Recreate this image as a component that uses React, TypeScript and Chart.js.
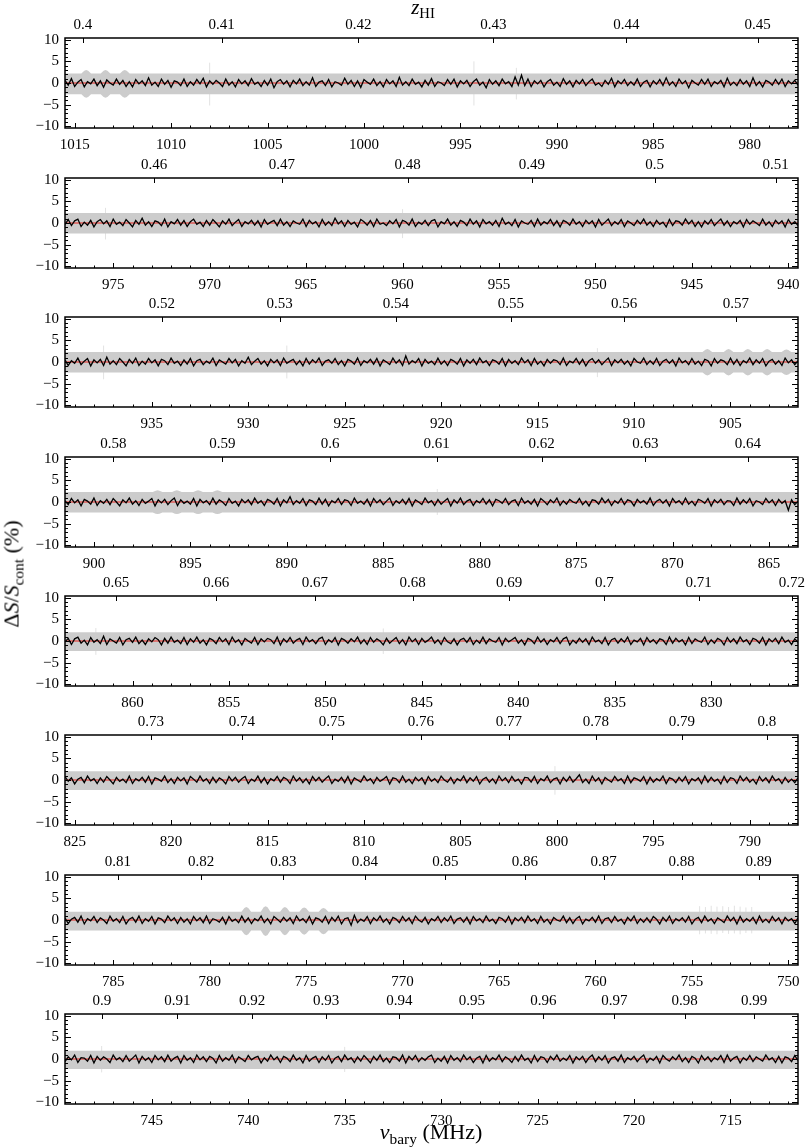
import React, { useEffect, useRef } from "react";
import { Chart, registerables } from "chart.js";
Chart.register(...registerables);

// ---------------- data ----------------
const REST_FREQ_MHZ = 1420.405751;
const panelStartMHz = [1015.5, 977.5, 939.5, 901.5, 863.5, 825.5, 787.5, 749.5];
const panelSpanMHz = 38;

const zTicks1 = ["0.4", "0.41", "0.42", "0.43", "0.44", "0.45"];
const zTicks2 = ["0.46", "0.47", "0.48", "0.49", "0.5", "0.51"];
const zTicks3 = ["0.52", "0.53", "0.54", "0.55", "0.56", "0.57"];
const zTicks4 = ["0.58", "0.59", "0.6", "0.61", "0.62", "0.63", "0.64"];
const zTicks5 = ["0.65", "0.66", "0.67", "0.68", "0.69", "0.7", "0.71", "0.72"];
const zTicks6 = ["0.73", "0.74", "0.75", "0.76", "0.77", "0.78", "0.79", "0.8"];
const zTicks7 = ["0.81", "0.82", "0.83", "0.84", "0.85", "0.86", "0.87", "0.88", "0.89"];
const zTicks8 = ["0.9", "0.91", "0.92", "0.93", "0.94", "0.95", "0.96", "0.97", "0.98", "0.99"];
const zTickLabels = [zTicks1, zTicks2, zTicks3, zTicks4, zTicks5, zTicks6, zTicks7, zTicks8];

// ΔS/S_cont (%) sampled every 1/6 MHz, from the panel's high-frequency edge downwards
const flux1 = [0.6,-0.5,1.0,-0.8,0.2,0.8,-0.9,0.3,-0.2,0.9,-0.6,0.5,-1.0,0.7,0.0,-0.5,0.9,-0.3,0.6,-0.8,
0.3,-0.9,0.8,-0.2,0.5,-0.6,1.2,-0.5,0.2,-0.8,0.9,-0.3,0.6,-1.0,0.5,0.2,-0.6,0.9,-0.8,0.3,
-0.5,0.8,-0.2,1.1,-0.9,0.5,-0.3,0.6,0.0,-0.8,0.9,-0.5,0.3,-0.9,0.8,-0.2,0.5,-0.6,1.0,-0.3,
0.2,-0.8,0.6,-0.5,0.9,-1.1,0.3,0.8,-0.3,0.5,-0.9,0.6,-0.2,0.9,-0.6,0.3,-0.5,1.2,-0.8,0.2,
0.5,-0.6,0.8,-0.9,0.3,0.0,-0.5,1.1,-0.3,0.6,-0.8,0.5,-1.0,0.8,0.2,-0.3,0.9,-0.6,0.3,-0.9,
0.8,-0.2,0.5,-0.8,1.3,-0.5,0.3,-0.6,0.9,-0.3,0.2,-0.9,0.6,-0.5,1.0,-0.8,0.3,0.0,-0.6,0.8,
-0.3,0.9,-0.9,0.5,-0.2,0.6,-0.8,0.3,0.9,-0.5,0.2,-1.1,0.8,-0.3,0.5,-0.6,0.9,-0.2,0.3,-0.8,
1.4,-0.5,1.8,-0.6,0.9,-0.8,0.5,-0.2,0.6,-0.9,0.3,0.8,-0.5,0.2,-0.8,1.0,-0.3,0.5,-0.9,0.6,
-0.2,0.8,-0.6,0.3,0.9,-0.5,0.0,-0.8,0.6,-0.3,1.1,-0.9,0.5,-0.2,0.8,-0.6,0.3,-0.5,0.9,-0.8,
0.2,0.6,-0.9,0.5,-0.3,0.8,-0.6,1.2,-0.5,0.3,-0.8,0.9,-0.2,0.5,-1.1,0.6,0.0,-0.5,0.8,-0.3,
0.9,-0.8,0.3,-0.2,0.6,-0.9,1.1,-0.5,0.2,-0.6,0.8,-0.3,0.5,-0.8,1.2,-0.6,0.3,-0.9,0.6,0.2,
-0.5,0.8,-0.3,0.9,-0.8,0.5,-0.2,0.6,-0.5];
const flux2 = [-0.3,0.8,-0.6,0.5,0.9,-0.8,0.2,-0.5,0.6,-0.9,0.3,0.8,-0.2,0.5,-0.8,0.9,-0.3,0.2,-0.6,0.8,
0.0,-0.9,0.6,-0.3,1.1,-0.5,0.3,-0.8,0.5,0.2,-0.6,0.9,-0.9,0.3,-0.2,0.8,-0.5,0.6,-0.8,0.3,
0.9,-0.3,0.2,-0.8,0.6,-0.5,0.8,0.0,-0.9,0.5,-0.3,0.9,-0.6,0.2,0.8,-0.8,0.3,-0.2,0.6,-0.5,
0.5,-0.9,0.8,-0.3,0.2,0.6,-0.6,0.9,-0.5,0.3,-0.8,0.5,0.0,-0.3,0.9,-0.8,0.6,-0.2,0.3,-0.9,
0.8,-0.5,0.3,-0.6,1.1,-0.2,0.5,-0.8,0.6,-0.3,0.2,-0.9,0.8,0.3,-0.5,0.6,-0.8,0.9,-0.3,0.0,
-0.6,0.5,-0.2,0.8,-0.9,0.6,0.3,-0.5,0.9,-0.8,0.2,-0.3,0.6,-0.6,0.5,0.8,-0.9,0.3,-0.2,0.9,
-0.5,0.3,-0.8,0.6,0.2,-0.6,0.9,-0.3,0.5,-0.9,0.8,-0.2,0.3,-0.5,0.6,-0.8,1.1,-0.3,0.2,-0.6,
0.8,-0.9,0.5,0.0,-0.3,0.6,-0.8,0.9,-0.5,0.3,-0.2,0.8,-0.6,0.5,-0.9,0.6,0.2,-0.5,0.9,-0.3,
0.3,-0.8,0.6,-0.2,0.5,-0.9,0.8,-0.5,0.2,0.9,-0.6,0.3,-0.3,0.8,-0.8,0.5,0.0,-0.6,0.6,-0.2,
0.9,-0.5,0.3,-0.8,0.6,-0.3,0.2,-0.9,0.8,-0.6,0.5,0.3,-0.5,0.9,-0.2,0.6,-0.8,0.3,-0.9,0.5,
-0.3,0.8,-0.6,0.2,0.9,-0.5,0.5,-0.8,0.3,-0.2,0.6,-0.9,0.8,-0.3,0.5,0.0,-0.6,0.9,-0.5,0.3,
-0.8,0.6,-0.2,0.5,-0.9,0.8,-0.3,0.3,-0.6];
const flux3 = [0.5,-0.8,0.3,-0.3,0.9,-0.6,0.2,0.8,-0.9,0.5,-0.2,0.6,-0.8,1.1,-0.5,0.3,-0.6,0.8,0.0,-0.9,
0.6,-0.3,0.9,-0.8,0.2,-0.5,0.8,-0.2,0.5,-0.9,0.6,0.3,-0.6,0.9,-0.3,0.2,-0.8,0.5,-0.5,0.8,
-0.9,0.3,0.6,-0.6,0.2,-0.3,0.9,-0.8,0.5,0.0,-0.5,0.8,-0.2,0.6,-0.9,0.3,-0.3,1.1,-0.6,0.2,
0.8,-0.5,0.3,-0.9,0.6,-0.2,0.5,-0.8,0.9,-0.3,0.2,0.6,-0.6,0.3,-0.9,0.8,-0.5,0.5,-0.2,0.9,
-0.8,0.2,0.5,-0.3,0.8,-0.6,0.3,-0.9,0.6,0.2,-0.5,0.9,-0.8,0.3,-0.2,0.6,-0.5,0.8,-0.9,0.5,
0.0,-0.6,0.9,-0.3,0.5,-0.8,1.4,-0.5,0.3,-0.2,0.8,-0.9,0.6,-0.3,0.2,-0.6,0.9,-0.5,0.3,-0.8,
0.6,0.2,-0.5,0.8,-0.9,0.5,-0.3,0.6,-0.6,0.9,-0.2,0.3,-0.8,0.5,0.2,-0.5,0.8,-0.9,0.6,-0.3,
0.3,-0.6,0.9,-0.2,0.5,-0.8,0.8,-0.5,0.2,-0.9,0.6,-0.3,0.5,0.3,-0.6,0.9,-0.8,0.2,-0.2,0.8,
-0.5,0.6,-0.9,0.3,0.8,-0.3,0.5,-0.6,0.2,0.9,-0.8,0.5,-0.2,0.6,-0.5,0.3,-0.9,0.8,0.0,-0.3,
0.9,-0.6,0.3,-0.5,0.8,-0.8,0.2,0.6,-0.3,0.5,-0.9,0.9,-0.2,0.3,-0.6,0.8,-0.5,0.2,-0.8,0.6,
0.3,-0.9,0.8,-0.3,0.5,0.2,-0.6,0.9,-0.5,0.6,-0.8,0.3,-0.2,0.9,-0.6,0.5,-0.3,0.8,-0.9,0.2,
0.6,-0.5,0.3,-0.8,0.9,-0.2,0.5,-0.6,0.3];
const flux4 = [0.3,-0.6,0.8,-0.2,0.5,-0.9,0.6,0.2,-0.5,0.9,-0.8,0.3,-0.3,0.6,-0.6,0.8,0.0,-0.9,0.5,-0.2,
0.9,-0.5,0.3,-0.8,0.6,-0.3,0.2,0.8,-0.9,0.5,-0.2,0.6,-0.6,0.3,0.9,-0.8,0.5,-0.3,0.2,-0.5,
0.8,-0.9,0.6,-0.2,0.3,-0.6,0.9,-0.5,0.5,0.0,-0.8,0.8,-0.3,0.2,-0.9,0.6,-0.2,0.5,-0.6,0.9,
-0.3,0.3,-0.8,0.6,0.2,-0.5,0.8,-0.9,0.5,-0.2,1.2,-0.6,0.3,-0.3,0.8,-0.8,0.5,0.2,-0.6,0.9,
-0.5,0.6,-0.9,0.3,-0.2,0.8,-0.6,0.5,0.3,-0.8,0.9,-0.3,0.2,-0.5,0.6,-0.9,0.8,-0.2,0.5,-0.6,
0.2,0.9,-0.8,0.3,-0.3,0.6,-0.5,0.8,-0.9,0.5,0.0,-0.6,0.9,-0.2,0.3,-0.8,0.6,-0.5,0.2,0.8,
-0.9,0.5,-0.3,0.9,-0.6,0.2,0.6,-0.8,0.3,-0.2,0.8,-0.5,0.5,-0.9,0.6,0.3,-0.3,0.8,-0.6,0.2,
0.5,-0.8,0.9,-0.3,0.3,-0.5,0.6,-0.9,0.8,0.2,-0.6,0.5,-0.2,0.9,-0.8,0.3,-0.5,0.6,0.0,-0.3,
0.8,-0.6,0.2,-0.9,0.5,0.3,-0.5,0.9,-0.2,0.6,-0.8,0.3,-0.3,0.8,-0.6,0.5,0.2,-0.9,0.6,-0.2,
0.3,-0.5,0.9,-0.8,0.2,0.6,-0.3,0.5,-0.9,0.8,-0.2,0.3,-0.6,0.9,-0.5,0.2,-0.8,0.6,0.3,-0.3,
0.8,-0.9,0.5,-0.2,0.6,-0.6,0.3,0.2,-0.8,0.9,-0.5,0.5,-0.3,0.8,-0.9,0.3,0.0,-0.6,0.8,-0.2,
0.5,-0.8,0.6,-0.3,0.3,-1.9,0.5,-0.6,0.2];
const flux5 = [-0.2,0.6,-0.8,0.5,0.9,-0.5,0.2,-0.9,0.8,-0.3,0.3,-0.6,1.1,-0.8,0.5,0.0,-0.5,0.8,-0.9,0.3,
0.6,-0.3,0.9,-0.6,0.2,-0.8,0.5,-0.2,0.8,0.3,-0.9,0.6,-0.5,0.9,-0.3,0.2,-0.6,0.8,-0.8,0.5,
-0.3,0.9,-0.5,0.3,-0.9,0.6,0.2,-0.6,0.8,-0.2,0.5,-0.8,0.9,-0.3,0.3,-0.9,0.6,0.0,-0.5,0.8,
-0.8,0.5,-0.2,0.6,0.3,-0.6,0.9,-0.9,0.5,-0.3,0.8,-0.5,0.2,0.6,-0.8,0.9,-0.2,0.3,-0.6,0.5,
0.9,-0.8,0.3,-0.3,0.8,-0.9,0.6,0.2,-0.5,0.5,-0.2,0.9,-0.6,0.3,-0.8,0.8,-0.3,0.5,0.0,-0.9,
0.6,-0.5,0.2,0.8,-0.6,0.3,-0.9,0.9,-0.2,0.5,-0.8,0.6,-0.3,0.2,0.9,-0.5,0.3,-0.8,0.8,-0.2,
-0.6,0.5,-0.9,0.3,0.6,-0.3,0.8,-0.8,0.2,-0.5,0.9,-0.6,0.5,0.0,-0.3,0.8,-0.9,0.6,-0.2,0.3,
0.8,-0.5,0.3,-0.9,0.6,0.2,-0.6,0.9,-0.3,0.5,-0.8,0.3,-0.2,0.8,-0.6,0.5,0.9,-0.9,0.2,-0.5,
0.6,-0.3,0.5,-0.8,0.9,-0.2,0.2,-0.6,0.8,-0.9,0.3,0.6,-0.5,0.5,-0.3,0.9,-0.8,0.2,-0.2,0.6,
-0.9,0.8,-0.3,0.3,-0.6,0.5,0.2,-0.8,0.9,-0.5,0.6,-0.2,0.3,-0.9,0.8,-0.6,0.5,0.0,-0.3,0.9,
-0.8,0.3,-0.5,0.6,0.2,-0.9,0.8,-0.3,0.5,-0.6,0.9,-0.2,0.3,-0.8,0.6,0.3,-0.5,0.8,-0.9,0.5,
-0.2,0.6,-0.6,0.9,-0.3,0.2,-0.8,0.5,-0.3];
const flux6 = [0.8,-0.3,0.5,-0.9,0.2,0.6,-0.6,0.9,-0.2,0.3,-0.8,0.5,-0.5,0.8,0.0,-0.9,0.6,-0.3,0.2,-0.6,
0.9,-0.8,0.3,-0.2,0.6,-0.5,0.8,-0.9,0.5,0.2,-0.3,0.9,-0.6,0.3,-0.8,0.6,-0.2,0.5,-0.9,0.8,
0.2,-0.5,0.9,-0.3,0.3,-0.8,0.6,-0.6,0.5,0.0,-0.9,0.8,-0.2,0.6,-0.5,0.3,0.8,-0.8,0.2,-0.3,
0.9,-0.6,0.5,-0.9,0.3,-0.2,0.8,-0.5,0.6,0.2,-0.8,0.9,-0.3,0.5,-0.6,0.3,-0.9,0.8,-0.2,0.6,
-0.5,0.3,0.9,-0.8,0.2,-0.3,0.6,-0.6,0.8,-0.9,0.5,0.0,-0.5,0.9,-0.2,0.3,-0.8,0.6,-0.3,0.2,
0.8,-0.9,0.5,0.3,-0.6,0.9,-0.5,0.2,-0.8,0.6,-0.2,0.5,-0.9,0.8,-0.3,0.3,-0.6,0.9,0.0,-0.5,
0.6,-0.8,0.3,-0.2,0.9,-0.6,0.5,-0.3,0.8,-0.9,0.2,0.6,-0.5,0.3,-0.8,0.9,-0.2,0.5,-0.6,0.8,
-0.3,0.2,-0.9,0.6,0.5,-0.5,0.8,-0.8,0.3,-0.2,0.9,-0.6,0.2,0.5,-0.9,0.6,-0.3,0.8,-0.5,0.3,
1.2,-0.6,0.2,-0.8,0.9,-0.3,0.5,-0.9,0.6,0.0,-0.5,0.8,-0.2,0.3,-0.8,0.9,-0.6,0.5,0.2,-0.3,
0.8,-0.9,0.6,-0.5,0.3,-0.2,0.9,-0.8,0.5,0.2,-0.6,0.6,-0.3,0.8,-0.9,0.3,-0.2,0.5,-0.8,0.9,
-0.5,0.6,-0.3,0.2,-0.9,0.8,-0.6,0.5,0.3,-0.8,0.9,-0.2,0.6,-0.5,0.2,-0.9,0.8,-0.3,0.5,-0.6,
0.9,-0.2,0.3,-0.8,0.6,-0.5,0.2,-0.6,0.5];
const flux7 = [0.5,-0.8,0.2,0.6,-0.5,0.9,-0.9,0.3,-0.2,0.8,-0.6,0.5,0.0,-0.8,0.9,-0.3,0.3,-0.6,0.8,-0.9,
0.2,0.6,-0.5,0.9,-0.8,0.3,-0.3,0.8,-0.9,0.5,0.2,-0.6,0.9,-0.2,0.5,-0.8,0.6,-0.5,0.3,-0.9,
0.8,-0.2,0.5,-0.6,0.9,-0.8,0.3,0.0,-0.5,0.6,-0.9,0.8,-0.3,0.2,-0.6,0.9,-0.5,0.5,-0.8,0.3,
-0.2,0.9,-0.6,0.3,-0.9,0.8,0.2,-0.5,0.6,-0.3,0.5,-0.8,0.9,-0.2,0.3,-0.6,0.8,-0.9,0.5,0.2,
-0.5,0.8,-0.8,0.6,-0.3,0.9,-0.9,0.3,0.5,-1.2,1.1,-0.6,0.2,-0.3,0.8,-0.8,0.5,-0.2,0.9,-0.5,
0.3,-0.9,0.6,0.2,-0.6,0.8,-0.3,0.5,-0.8,0.9,0.0,-0.5,0.6,-0.9,0.3,-0.2,0.8,-0.6,0.5,-0.3,
0.9,-0.8,0.2,0.5,-0.5,0.6,-0.9,0.8,-0.2,0.3,-0.6,0.9,-0.3,0.2,-0.8,0.6,0.3,-0.5,0.8,-0.9,
0.5,-0.2,0.6,-0.6,0.9,-0.3,0.3,-0.8,0.8,-0.5,0.2,-0.9,0.6,0.0,-0.3,0.9,-0.6,0.5,-0.8,0.3,
0.8,-0.9,0.2,-0.2,0.6,-0.5,0.9,-0.8,0.3,0.5,-0.6,0.8,-0.3,0.2,-0.9,0.6,-0.2,0.9,-0.8,0.3,
-0.5,0.5,-0.6,0.8,0.2,-0.9,0.6,-0.3,0.9,-0.8,0.3,-0.2,0.5,-0.5,0.8,-0.9,0.2,0.6,-0.6,0.9,
-0.3,0.3,-0.8,0.5,0.0,-0.6,0.9,-0.2,0.6,-0.9,0.8,-0.5,0.3,-0.3,0.6,-0.8,0.9,-0.5,0.2,-0.6,
0.8,-0.3,0.5,-0.9,0.6,-0.2,0.3,-0.8,0.5];
const flux8 = [-0.6,0.5,-0.2,0.9,-0.8,0.3,0.2,-0.5,0.8,-0.9,0.6,-0.3,0.5,0.0,-0.8,0.9,-0.2,0.3,-0.6,0.8,
-0.5,0.2,0.9,-0.9,0.6,-0.3,0.3,-0.8,0.8,-0.2,0.5,-0.6,0.9,-0.5,0.2,0.6,-0.9,0.8,-0.3,0.3,
-0.8,0.9,-0.2,0.5,-0.6,0.6,0.2,-0.9,0.8,-0.5,0.3,-0.3,0.9,-0.8,0.5,0.0,-0.6,0.8,-0.2,0.3,
0.6,-0.9,0.3,-0.5,0.9,-0.2,0.5,-0.8,0.6,0.2,-0.6,0.9,-0.3,0.3,-0.9,0.8,-0.5,0.2,0.6,-0.8,
0.5,-0.3,0.8,-0.9,0.2,0.6,-0.6,0.9,-0.2,0.3,-0.8,0.5,-0.5,0.8,0.0,-0.9,0.6,-0.3,0.9,-0.6,
0.2,-0.8,0.5,0.3,-0.5,0.9,-0.9,0.6,-0.2,0.8,-0.6,0.3,-0.3,0.5,0.9,-0.8,0.2,-0.5,0.6,-0.9,
0.8,-0.3,0.3,-0.6,0.9,-0.2,0.5,-0.8,0.2,0.6,-0.9,0.8,-0.5,0.3,-0.2,0.9,-0.6,0.5,0.0,-0.8,
0.6,-0.5,0.9,-0.3,0.2,-0.9,0.8,-0.6,0.5,0.3,-0.8,0.6,-0.2,0.9,-0.5,0.2,-0.3,0.8,-0.9,0.5,
-0.2,0.6,-0.8,0.3,0.9,-0.6,0.5,-0.3,0.8,-0.9,0.2,0.5,-0.5,0.9,-0.8,0.3,-0.2,0.6,-0.6,0.3,
0.9,-0.8,0.2,-0.3,0.6,-0.9,0.8,0.0,-0.5,0.5,-0.2,0.9,-0.6,0.3,-0.8,0.6,0.2,-0.9,0.8,-0.3,
0.5,-0.6,0.3,-0.2,0.8,-0.8,0.9,-0.5,0.2,0.6,-0.9,0.3,-0.3,0.8,-0.6,0.5,0.0,-0.5,0.9,-0.2,
0.3,-0.8,0.6,-0.9,0.5,0.2,-0.6,0.8,-0.3];
const fluxPanels = [flux1, flux2, flux3, flux4, flux5, flux6, flux7, flux8];

// model (red) level per panel
const modelLevel = [0, 0, 0, 0, 0, 0, 0, 0];

// grey noise band (upper / lower edges, %)
const bandHigh = [2.2, 2.3, 2.3, 2.3, 2.0, 2.0, 1.9, 1.9];
const bandLow = [-2.6, -2.4, -2.4, -2.4, -2.3, -2.3, -2.4, -2.3];
// local widening of the band: [MHz, extra %]
const bandBumps1 = [[1014.4, 0.8], [1013.4, 0.8], [1012.4, 0.8]];
const bandBumps2: number[][] = [];
const bandBumps3 = [[906.2, 0.7], [905.1, 0.7], [904.1, 0.7], [903.1, 0.7], [902.1, 0.6]];
const bandBumps4 = [[896.7, 0.4], [895.7, 0.4], [894.6, 0.4], [893.6, 0.4]];
const bandBumps5: number[][] = [];
const bandBumps6: number[][] = [];
const bandBumps7 = [[778.1, 1.1], [777.1, 1.3], [776.1, 1.1], [775.1, 1.0], [774.1, 0.9]];
const bandBumps8: number[][] = [];
const bandBumps = [bandBumps1, bandBumps2, bandBumps3, bandBumps4, bandBumps5, bandBumps6, bandBumps7, bandBumps8];

// faint RFI-flagged channels: [MHz, top %, bottom %]
const rfi1 = [[1008.0, 4.7, -5.2], [994.3, 5.0, -5.2], [992.1, 3.5, -3.8]];
const rfi2 = [[975.4, 3.5, -3.8], [960.0, 3.2, -3.5]];
const rfi3 = [[937.5, 3.8, -4.0], [928.0, 3.8, -3.8], [911.9, 3.2, -3.5]];
const rfi4 = [[882.2, 3.0, -3.0]];
const rfi5 = [[861.9, 3.0, -3.2], [847.0, 2.9, -3.0]];
const rfi6 = [[800.1, 3.2, -3.4]];
const rfi7 = [[754.6, 3.2, -3.3], [754.3, 3.0, -3.1], [754.0, 3.3, -3.2], [753.7, 3.1, -3.3], [753.4, 3.2, -3.0],
  [753.1, 3.0, -3.2], [752.8, 3.3, -3.1], [752.5, 3.1, -3.3], [752.2, 2.9, -3.0], [751.9, 3.0, -3.1]];
const rfi8 = [[747.6, 3.0, -3.1], [735.0, 2.8, -3.0]];
const rfiPanels = [rfi1, rfi2, rfi3, rfi4, rfi5, rfi6, rfi7, rfi8];

// ---------------- layout ----------------
const FONT = "'Liberation Serif', 'DejaVu Serif', serif";
const CANVAS_W = 808;
const CANVAS_H = 139;
const AREA_TOP = 28;
const BOTTOM_H = 21;
const LEFT_W = 65;
const RIGHT_PAD = 10;
const PANEL_PITCH = 139.4;
const FIRST_PANEL_TOP = 38.3;

const ticksPlugin = {
  id: "inwardTicks",
  afterDatasetsDraw(chart: any) {
    const { ctx, chartArea: ca } = chart;
    const xs = chart.scales.x;
    const ys = chart.scales.y;
    const zt = chart.scales.xTop;
    ctx.save();
    ctx.strokeStyle = "#000";
    ctx.lineWidth = 1;
    ctx.beginPath();
    for (let v = -10; v <= 10; v++) {
      const p = Math.round(ys.getPixelForValue(v)) + 0.5;
      const len = v % 5 === 0 ? 6 : 3;
      ctx.moveTo(ca.left, p);
      ctx.lineTo(ca.left + len, p);
      ctx.moveTo(ca.right, p);
      ctx.lineTo(ca.right - len, p);
    }
    for (let f = Math.ceil(xs.min); f <= Math.floor(xs.max); f++) {
      const p = Math.round(xs.getPixelForValue(f)) + 0.5;
      const len = f % 5 === 0 ? 5 : 2.5;
      ctx.moveTo(p, ca.bottom);
      ctx.lineTo(p, ca.bottom - len);
    }
    for (const t of zt.ticks) {
      const p = Math.round(zt.getPixelForValue(t.value)) + 0.5;
      ctx.moveTo(p, ca.top);
      ctx.lineTo(p, ca.top + 5);
    }
    ctx.stroke();
    ctx.lineWidth = 1.5;
    ctx.strokeRect(ca.left, ca.top, ca.right - ca.left, ca.bottom - ca.top);
    ctx.restore();
  },
};

function Panel({ index }: { index: number }) {
  const ref = useRef<HTMLCanvasElement | null>(null);
  useEffect(() => {
    const canvas = ref.current;
    if (!canvas) return;
    const start = panelStartMHz[index];
    const end = start - panelSpanMHz;
    const flux = fluxPanels[index];
    const step = panelSpanMHz / (flux.length - 1);
    const line = flux.map((v, i) => ({ x: start - i * step, y: v }));

    const hi = bandHigh[index];
    const lo = bandLow[index];
    const bumps = [...bandBumps[index]].sort((a, b) => b[0] - a[0]);
    const upper: any[] = [{ x: start, y: hi }];
    const lower: any[] = [{ x: start, y: lo }];
    for (const [f, extra] of bumps) {
      upper.push({ x: f + 0.25, y: hi }, { x: f + 0.1, y: hi + extra * 0.8 }, { x: f, y: hi + extra }, { x: f - 0.1, y: hi + extra * 0.8 }, { x: f - 0.25, y: hi });
      lower.push({ x: f + 0.25, y: lo }, { x: f + 0.1, y: lo - extra * 0.8 }, { x: f, y: lo - extra }, { x: f - 0.1, y: lo - extra * 0.8 }, { x: f - 0.25, y: lo });
    }
    upper.push({ x: end, y: hi });
    lower.push({ x: end, y: lo });

    const spikes: any[] = [];
    for (const [f, top, bot] of rfiPanels[index]) {
      spikes.push({ x: f, y: bot }, { x: f, y: top }, { x: f, y: null });
    }

    const model = [{ x: start, y: modelLevel[index] }, { x: end, y: modelLevel[index] }];

    const zLabels = zTickLabels[index];
    const tickFont = { family: FONT, size: 15 };

    const chart = new Chart(canvas, {
      type: "line",
      data: {
        datasets: [
          { data: line, xAxisID: "x", yAxisID: "y", borderColor: "#000", borderWidth: 1.3, pointRadius: 0, fill: false, order: 0 } as any,
          { data: model, xAxisID: "x", yAxisID: "y", borderColor: "#e8211b", borderWidth: 1, pointRadius: 0, fill: false, order: 1 } as any,
          { data: upper, xAxisID: "x", yAxisID: "y", borderColor: "rgba(0,0,0,0)", borderWidth: 0, backgroundColor: "#cccccc", pointRadius: 0, fill: "+1", order: 2 } as any,
          { data: lower, xAxisID: "x", yAxisID: "y", borderColor: "rgba(0,0,0,0)", borderWidth: 0, pointRadius: 0, fill: false, order: 2 } as any,
          { data: spikes, xAxisID: "x", yAxisID: "y", borderColor: "#e2e2e2", borderWidth: 1, pointRadius: 0, fill: false, spanGaps: false, order: 3 } as any,
        ],
      },
      options: {
        responsive: false,
        devicePixelRatio: 1,
        animation: false,
        events: [],
        layout: { padding: { left: 0, right: RIGHT_PAD, top: 0, bottom: 0 } },
        plugins: { legend: { display: false }, tooltip: { enabled: false } },
        scales: {
          x: {
            type: "linear",
            position: "bottom",
            min: end,
            max: start,
            reverse: true,
            grid: { display: false, drawTicks: false },
            border: { display: false },
            ticks: {
              stepSize: 5,
              includeBounds: false,
              autoSkip: false,
              maxRotation: 0,
              minRotation: 0,
              padding: 8,
              color: "#000",
              font: tickFont,
              callback: (v: any) => String(v),
            },
            afterFit: (s: any) => {
              s.height = BOTTOM_H;
              s.paddingLeft = 0;
              s.paddingRight = 0;
            },
          },
          xTop: {
            type: "linear",
            position: "top",
            min: end,
            max: start,
            reverse: true,
            grid: { display: false, drawTicks: false },
            border: { display: false },
            afterBuildTicks: (s: any) => {
              s.ticks = zLabels.map((z) => ({ value: REST_FREQ_MHZ / (1 + parseFloat(z)) }));
            },
            ticks: {
              autoSkip: false,
              maxRotation: 0,
              minRotation: 0,
              padding: 4,
              color: "#000",
              font: tickFont,
              callback: (_v: any, i: number) => zLabels[i],
            },
            afterFit: (s: any) => {
              s.height = AREA_TOP;
              s.paddingLeft = 0;
              s.paddingRight = 0;
            },
          },
          y: {
            type: "linear",
            position: "left",
            min: -10.4,
            max: 10.4,
            grid: { display: false, drawTicks: false },
            border: { display: false },
            ticks: {
              stepSize: 5,
              includeBounds: false,
              padding: 6,
              color: "#000",
              font: tickFont,
              callback: (v: any) => (v < 0 ? "\u2212" + String(-v) : String(v)),
            },
            afterFit: (s: any) => {
              s.width = LEFT_W;
              s.paddingTop = 0;
              s.paddingBottom = 0;
            },
          },
        },
      } as any,
      plugins: [ticksPlugin],
    });
    return () => chart.destroy();
  }, [index]);

  const top = Math.round(FIRST_PANEL_TOP + index * PANEL_PITCH) - AREA_TOP;
  return (
    <canvas
      ref={ref}
      width={CANVAS_W}
      height={CANVAS_H}
      style={{ position: "absolute", left: 0, top, width: CANVAS_W, height: CANVAS_H, display: "block" }}
    />
  );
}

const subStyle: React.CSSProperties = { fontSize: "70%", verticalAlign: "-0.3em", lineHeight: 1 };

export default function App() {
  const panels = [0, 1, 2, 3, 4, 5, 6, 7];
  return (
    <div style={{ position: "absolute", left: 0, top: 0, width: 808, height: 1147, background: "#fff", fontFamily: FONT, color: "#000" }}>
      {panels.map((i) => (
        <Panel key={i} index={i} />
      ))}
      <div style={{ position: "absolute", left: 423, top: 9, transform: "translate(-50%,-50%)", fontSize: 21, lineHeight: 1, whiteSpace: "nowrap" }}>
        <i>z</i>
        <span style={subStyle}>HI</span>
      </div>
      <div style={{ position: "absolute", left: 431, top: 1134, transform: "translate(-50%,-50%)", fontSize: 22, lineHeight: 1, whiteSpace: "nowrap" }}>
        <i>ν</i>
        <span style={subStyle}>bary</span> (MHz)
      </div>
      <div style={{ position: "absolute", left: 13, top: 574, transform: "translate(-50%,-50%) rotate(-90deg)", fontSize: 22, lineHeight: 1, whiteSpace: "nowrap" }}>
        Δ<i>S</i>/<i>S</i>
        <span style={subStyle}>cont</span> (%)
      </div>
    </div>
  );
}
